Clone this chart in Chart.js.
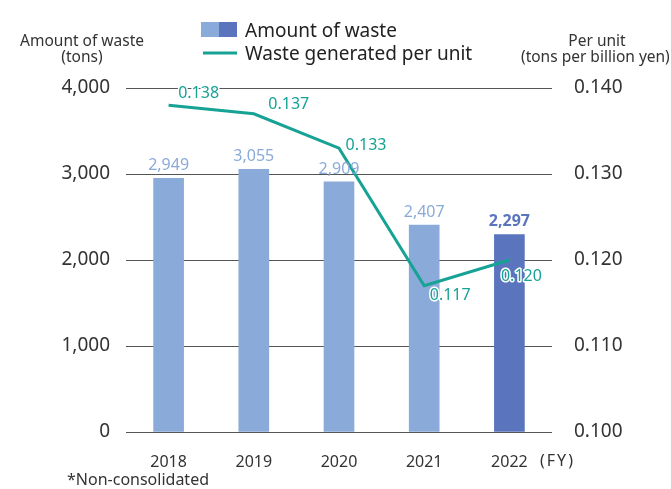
<!DOCTYPE html>
<html>
<head>
<meta charset="utf-8">
<script src="https://cdn.jsdelivr.net/npm/chart.js@4"></script>
<style>
  html, body { margin: 0; padding: 0; background: #fff; }
  #wrap { width: 671px; height: 489px; }
</style>
</head>
<body>
<div id="wrap"><canvas id="wasteChart" width="671" height="489"></canvas></div>
<script>
/* =====================
   データ
===================== */
const years = ['2018', '2019', '2020', '2021', '2022'];
const wasteTons = [2949, 3055, 2909, 2407, 2297];
const wastePerUnit = [0.138, 0.137, 0.133, 0.117, 0.120];

// 線ラベルの位置ずれ (点からの px)
const perUnitLabelShift = [[30, -12], [35, -9], [27, -3], [26, 10], [12, 16]];

const FONT = '"Noto Sans", "Open Sans", sans-serif';
const LIGHT_BLUE = '#8aaad9';
const DARK_BLUE = '#5a75bd';
const TEAL = '#16a294';
const TEXT = '#333';

/* =====================
   ラベル・凡例などのテキスト
===================== */
const textPlugin = {
    id: 'texts',
    afterDatasetsDraw: function(chart) {
        const ctx = chart.ctx;
        const last = years.length - 1;

        // 棒の値
        const barMeta = chart.getDatasetMeta(0);
        barMeta.data.forEach((bar, i) => {
            ctx.save();
            ctx.textAlign = 'center';
            ctx.textBaseline = 'alphabetic';
            ctx.font = (i === last ? 'bold ' : '') + '16px ' + FONT;
            ctx.fillStyle = i === last ? DARK_BLUE : LIGHT_BLUE;
            ctx.fillText(wasteTons[i].toLocaleString('en-US'), bar.x, bar.y - 8);
            ctx.restore();
        });

        // 線の値 (白フチ付き)
        const lineMeta = chart.getDatasetMeta(1);
        lineMeta.data.forEach((pt, i) => {
            const s = perUnitLabelShift[i];
            const label = wastePerUnit[i].toFixed(3);
            ctx.save();
            ctx.textAlign = 'center';
            ctx.textBaseline = 'middle';
            ctx.font = '16px ' + FONT;
            ctx.lineJoin = 'round';
            ctx.strokeStyle = '#fff';
            ctx.lineWidth = 3;
            ctx.strokeText(label, pt.x + s[0], pt.y + s[1]);
            ctx.fillStyle = TEAL;
            ctx.fillText(label, pt.x + s[0], pt.y + s[1]);
            ctx.restore();
        });
    },
    afterDraw: function(chart) {
        const ctx = chart.ctx;
        ctx.save();
        ctx.fillStyle = TEXT;
        ctx.textBaseline = 'middle';

        // 軸タイトル
        ctx.font = '15.5px ' + FONT;
        ctx.textAlign = 'center';
        ctx.fillText('Amount of waste', 82, 42);
        ctx.fillText('(tons)', 82, 58);
        ctx.fillText('Per unit', 597, 42);
        ctx.textAlign = 'left';
        ctx.fillText('(tons per billion yen)', 521, 58);

        // (FY)
        ctx.font = '16px ' + FONT;
        ctx.letterSpacing = '2px';
        ctx.fillText('(FY)', 540, 461);
        ctx.letterSpacing = '0px';

        // 注記
        ctx.fillText('*Non-consolidated', 67, 480);

        // 凡例
        ctx.fillStyle = LIGHT_BLUE;
        ctx.fillRect(201, 22, 18, 15);
        ctx.fillStyle = DARK_BLUE;
        ctx.fillRect(219, 22, 18, 15);
        ctx.strokeStyle = TEAL;
        ctx.lineWidth = 3;
        ctx.beginPath();
        ctx.moveTo(203, 53);
        ctx.lineTo(237, 53);
        ctx.stroke();

        ctx.fillStyle = '#222';
        ctx.font = '19px ' + FONT;
        ctx.textBaseline = 'alphabetic';
        ctx.fillText('Amount of waste', 245, 37);
        ctx.fillText('Waste generated per unit', 245, 60);
        ctx.restore();
    }
};

/* =====================
   Chart.js
===================== */
new Chart(document.getElementById('wasteChart'), {
    type: 'bar',
    data: {
        labels: years,
        datasets: [
            {
                type: 'bar',
                label: 'Amount of waste',
                data: wasteTons,
                yAxisID: 'y',
                backgroundColor: years.map((y, i) => i === years.length - 1 ? DARK_BLUE : LIGHT_BLUE),
                barThickness: 30,
                order: 2
            },
            {
                type: 'line',
                label: 'Waste generated per unit',
                data: wastePerUnit,
                yAxisID: 'y1',
                borderColor: TEAL,
                backgroundColor: TEAL,
                borderWidth: 3,
                pointRadius: 0,
                tension: 0,
                fill: false,
                order: 1
            }
        ]
    },
    plugins: [textPlugin],
    options: {
        responsive: false,
        animation: false,
        devicePixelRatio: 1,
        layout: { padding: { top: 88, left: 0, right: 0, bottom: 0 } },
        plugins: { legend: { display: false }, tooltip: { enabled: false } },
        scales: {
            x: {
                grid: { display: false },
                border: { display: false },
                ticks: { color: TEXT, font: { family: FONT, size: 16 }, padding: 13 },
                afterFit: function(scale) { scale.height = 57; }
            },
            y: {
                position: 'left',
                min: 0,
                max: 4000,
                border: { display: false },
                grid: { color: '#555', lineWidth: 1, drawTicks: false },
                ticks: {
                    stepSize: 1000,
                    color: TEXT,
                    font: { family: FONT, size: 19 },
                    padding: 16,
                    callback: function(v) { return v.toLocaleString('en-US'); }
                },
                afterFit: function(scale) { scale.width = 126; }
            },
            y1: {
                position: 'right',
                min: 0.1,
                max: 0.14,
                border: { display: false },
                grid: { display: false, drawTicks: false },
                ticks: {
                    stepSize: 0.01,
                    color: TEXT,
                    font: { family: FONT, size: 19 },
                    padding: 22,
                    callback: function(v) { return Number(v).toFixed(3); }
                },
                afterFit: function(scale) { scale.width = 119; }
            }
        }
    }
});
</script>
</body>
</html>
